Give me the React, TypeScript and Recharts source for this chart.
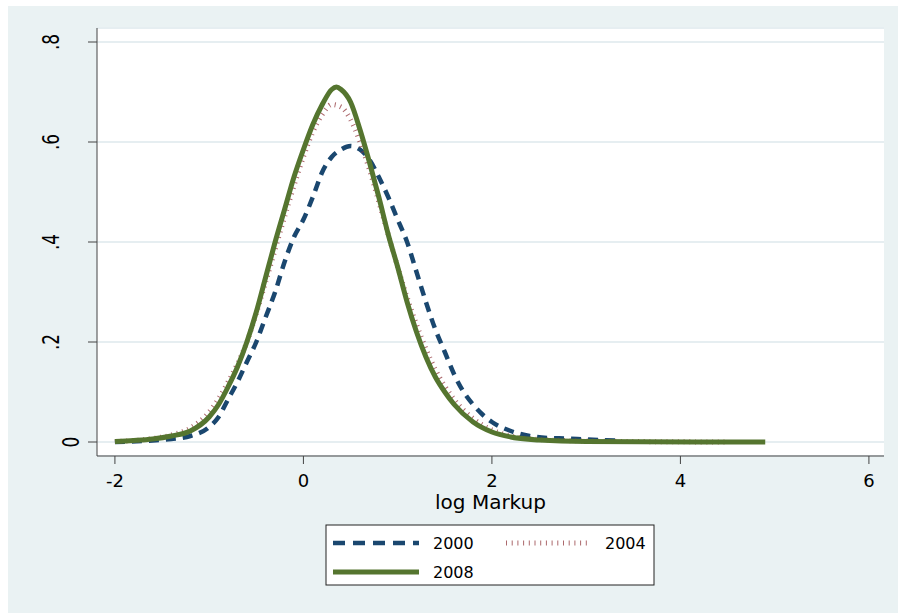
import React from 'react';
import { LineChart, Line, XAxis, YAxis, CartesianGrid } from 'recharts';

// kernel density of log markup
const x2000 = [-2, -1.6, -1.4, -1.2, -1.0, -0.9, -0.8, -0.7, -0.6, -0.5, -0.4, -0.3, -0.2, -0.1, 0, 0.1, 0.2, 0.3, 0.4, 0.5, 0.6, 0.7, 0.8, 0.9, 1.0, 1.1, 1.2, 1.3, 1.4, 1.5, 1.6, 1.7, 1.8, 1.9, 2.0, 2.2, 2.4, 2.6, 2.8, 3.0, 3.35];
const y2000 = [0.0, 0.003, 0.006, 0.012, 0.03, 0.05, 0.085, 0.12, 0.16, 0.2, 0.25, 0.3, 0.36, 0.41, 0.445, 0.49, 0.54, 0.57, 0.585, 0.592, 0.585, 0.565, 0.53, 0.49, 0.445, 0.4, 0.34, 0.28, 0.225, 0.18, 0.135, 0.1, 0.075, 0.055, 0.04, 0.022, 0.012, 0.008, 0.007, 0.005, 0.003];

const x2004 = [-2, -1.6, -1.4, -1.2, -1.0, -0.8, -0.6, -0.4, -0.2, 0, 0.1, 0.2, 0.3, 0.4, 0.5, 0.6, 0.7, 0.8, 0.9, 1.0, 1.2, 1.4, 1.6, 1.8, 2.0, 2.2, 2.5, 3.0, 3.5, 4.5];
const y2004 = [0.001, 0.007, 0.014, 0.028, 0.06, 0.12, 0.2, 0.32, 0.45, 0.57, 0.62, 0.655, 0.675, 0.67, 0.645, 0.6, 0.545, 0.48, 0.415, 0.35, 0.235, 0.145, 0.085, 0.047, 0.024, 0.012, 0.005, 0.002, 0.001, 0];

const x2008 = [-2, -1.8, -1.6, -1.4, -1.2, -1.0, -0.9, -0.8, -0.7, -0.6, -0.5, -0.4, -0.3, -0.2, -0.1, 0, 0.1, 0.2, 0.3, 0.35, 0.4, 0.5, 0.6, 0.7, 0.8, 0.9, 1.0, 1.1, 1.2, 1.3, 1.4, 1.5, 1.6, 1.8, 2.0, 2.2, 2.5, 3.0, 4.9];
const y2008 = [0.001, 0.003, 0.006, 0.012, 0.022, 0.05, 0.075, 0.11, 0.15, 0.2, 0.26, 0.33, 0.4, 0.465, 0.53, 0.585, 0.635, 0.675, 0.705, 0.71, 0.705, 0.68, 0.625, 0.56, 0.49, 0.415, 0.35, 0.28, 0.22, 0.17, 0.13, 0.1, 0.075, 0.04, 0.02, 0.01, 0.004, 0.001, 0];

const xTicks = [-2, 0, 2, 4, 6];
const yTicks = [0, 0.2, 0.4, 0.6, 0.8];
const yTickLabels = ['0', '.2', '.4', '.6', '.8'];

const pairs = (xs: number[], ys: number[]) => xs.map((x, i) => ({ x, y: ys[i] }));

const BLUE = '#1A476F';
const MAROON = '#90353B';
const GREEN = '#55752F';
const FONT = '"DejaVu Sans", sans-serif';

const YTick = (props: any) => {
  const { y, payload } = props;
  const idx = yTicks.indexOf(payload.value);
  const label = yTickLabels[idx];
  const cx = payload.value === 0 ? 71.5 : 51.5;
  return (
    <text
      transform={`translate(${cx - 8},${y}) scale(1.3,1) rotate(-90)`}
      textAnchor="middle"
      dominantBaseline="central"
      fontSize={17}
      fontFamily={FONT}
      fill="#000"
    >
      {label}
    </text>
  );
};

const LegendBox = () => (
  <svg width={330} height={62} style={{ position: 'absolute', left: 317, top: 518 }}>
    <rect x={1} y={1} width={328} height={60} fill="#fff" stroke="#222" strokeWidth={1} />
    <line x1={8} x2={94} y1={19} y2={19} stroke={BLUE} strokeWidth={4.5} strokeDasharray="12 8" />
    <text x={108} y={19} dominantBaseline="central" fontSize={16} fontFamily={FONT} fill="#000">2000</text>
    <line x1={181} x2={266} y1={19} y2={19} stroke={MAROON} strokeOpacity={0.75} strokeWidth={5} strokeDasharray="1 4.7" />
    <text x={280} y={19} dominantBaseline="central" fontSize={16} fontFamily={FONT} fill="#000">2004</text>
    <line x1={8} x2={94} y1={48} y2={48} stroke={GREEN} strokeWidth={5} />
    <text x={108} y={48} dominantBaseline="central" fontSize={16} fontFamily={FONT} fill="#000">2008</text>
  </svg>
);

export default function App() {
  return (
    <div style={{ position: 'fixed', left: 8, top: 6, width: 890, height: 607, background: '#EAF2F3' }}>
      <LineChart width={890} height={607} margin={{ top: 22, right: 14, left: 49, bottom: 102 }}>
        <CartesianGrid vertical={false} stroke="#E6EEF1" strokeWidth={2} fill="#fff" fillOpacity={1} />
        <XAxis
          dataKey="x"
          type="number"
          domain={[-2.19, 6.16]}
          ticks={xTicks}
          allowDataOverflow
          height={55}
          tickSize={8}
          tickMargin={10}
          stroke="#444"
          tick={{ fill: '#000', fontSize: 18, fontFamily: FONT }}
          label={{ value: 'log Markup', position: 'insideBottom', offset: 2, fill: '#000', fontSize: 20, fontFamily: FONT }}
        />
        <YAxis
          type="number"
          domain={[-0.028, 0.828]}
          ticks={yTicks}
          allowDataOverflow
          width={40}
          tickSize={9}
          stroke="#444"
          tick={<YTick />}
        />
        <Line data={pairs(x2000, y2000)} dataKey="y" type="monotone" stroke={BLUE} strokeWidth={4.5} strokeDasharray="10 7" dot={false} isAnimationActive={false} />
        <Line data={pairs(x2004, y2004)} dataKey="y" type="monotone" stroke={MAROON} strokeOpacity={0.75} strokeWidth={5} strokeDasharray="1 4.7" dot={false} isAnimationActive={false} />
        <Line data={pairs(x2008, y2008)} dataKey="y" type="monotone" stroke={GREEN} strokeWidth={5} dot={false} isAnimationActive={false} />
      </LineChart>
      <LegendBox />
    </div>
  );
}
